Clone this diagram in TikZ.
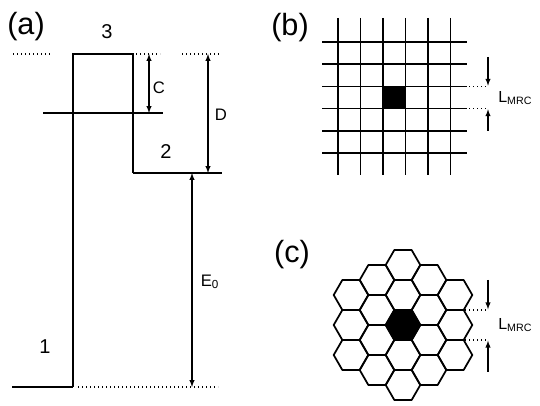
\documentclass[tikz,border=0pt]{standalone}
\usepackage{fontspec}
\setmainfont{Liberation Sans}
\usetikzlibrary{arrows, positioning, calc}

\tikzset{
    level/.style={line width=1.5pt},
    wall/.style={line width=1.2pt},
    guide/.style={dotted, line width=1pt},
    dim/.style={-latex, line width=0.8pt, shorten >=0.5pt},
    twodim/.style={latex-latex, line width=0.8pt},
    lvlnum/.style={font=\fontsize{15}{15}\selectfont, inner sep=0pt},
    dimlbl/.style={font=\fontsize{12.5}{12.5}\selectfont, inner sep=0pt},
    panel/.style={font=\fontsize{23}{23}\selectfont, inner sep=0pt},
    mrclbl/.style={font=\fontsize{12}{12}\selectfont, inner sep=0pt, anchor=west},
    gridline/.style={line width=1.3pt},
    hexcell/.style={line width=1.3pt, line join=round}
}

\begin{document}
\begin{tikzpicture}[x=0.75pt, y=-0.75pt]
    \useasboundingbox (0,0) rectangle (540,406);

    \node[panel] (pa) at (26,27) {(a)};
    \node[panel] (pb) at (290,28) {(b)};
    \node[panel] (pc) at (292,255) {(c)};

    \coordinate (w1) at (73,387);
    \coordinate (w3L) at (73,54);
    \coordinate (w3R) at (133,54);
    \coordinate (w2L) at (133,173);
    \coordinate (w2R) at (222,173);
    \draw[wall] (w1) -- (w3L) -- (w3R) -- (w2L);
    \draw[level] (w2L) -- (w2R);
    \draw[level] (12,387) -- (w1);
    \draw[level] (43,113) -- (163,113);
    \draw[guide] (13,54) -- (52,54);
    \draw[guide] (136,54) -- (160,54);
    \draw[guide] (182,54) -- (220,54);
    \draw[guide] (78,387) -- (218,387);

    \node[lvlnum] (n3) at (107,32) {3};
    \node[lvlnum] (n2) at (166,152) {2};
    \node[lvlnum] (n1) at (45,347) {1};

    \coordinate (cTop) at (149,54);
    \coordinate (cBot) at (149,113);
    \draw[twodim] (cTop) -- (cBot);
    \node[dimlbl] (lc) at (159,88) {C};

    \coordinate (dTop) at (208,54);
    \coordinate (dBot) at (208,173);
    \draw[twodim] (dTop) -- (dBot);
    \node[dimlbl] (ld) at (221,115) {D};

    \coordinate (eTop) at (192,173);
    \coordinate (eBot) at (192,387);
    \draw[twodim] (eTop) -- (eBot);
    \node[dimlbl] (le) at (210,282) {E\textsubscript{0}};

    \foreach \i in {0,...,5}
        \draw[gridline] ({338+22.5*\i},18) -- ({338+22.5*\i},175);
    \foreach \j in {0,...,5}
        \draw[gridline] (322,{42+22.2*\j}) -- (467,{42+22.2*\j});
    \fill (383,86.4) rectangle (405.5,108.6);

    \coordinate (bUp) at (488,86.4);
    \coordinate (bDn) at (488,108.6);
    \draw[guide] (469,86.4) -- (bUp);
    \draw[guide] (469,108.6) -- (bDn);
    \draw[dim] (488,57) -- (bUp);
    \draw[dim] (488,131) -- (bDn);
    \node[mrclbl] (lb) at (498,98) {L\textsubscript{MRC}};

    \foreach \q in {-2,...,2}
        \foreach \r in {-2,...,2} {
            \pgfmathtruncatemacro{\s}{abs(\q+\r)}
            \ifnum\s<3
                \draw[hexcell] ({403+26*\q},{325+30*(\r+\q/2)})
                    +(0:17.3) -- +(60:17.3) -- +(120:17.3) -- +(180:17.3)
                    -- +(240:17.3) -- +(300:17.3) -- cycle;
            \fi
        }
    \fill (403,325) +(0:17.3) -- +(60:17.3) -- +(120:17.3) -- +(180:17.3)
        -- +(240:17.3) -- +(300:17.3) -- cycle;

    \coordinate (cUp) at (488,310);
    \coordinate (cDn) at (488,340);
    \draw[guide] (465,310) -- (cUp);
    \draw[guide] (465,340) -- (cDn);
    \draw[dim] (488,280) -- (cUp);
    \draw[dim] (488,372) -- (cDn);
    \node[mrclbl] (lh) at (498,325) {L\textsubscript{MRC}};
\end{tikzpicture}
\end{document}
